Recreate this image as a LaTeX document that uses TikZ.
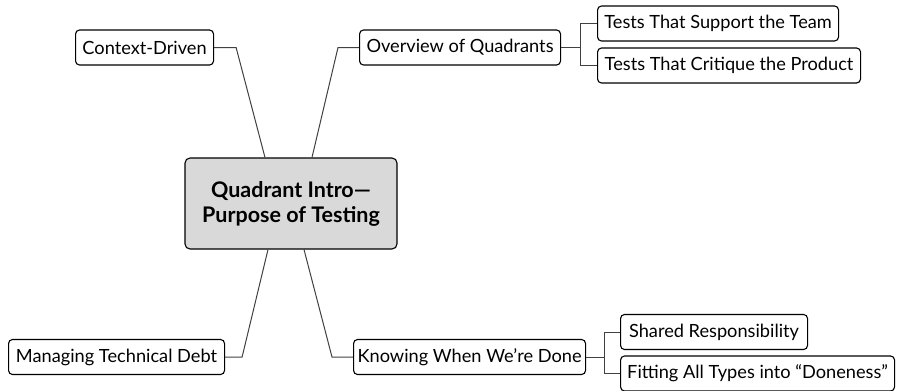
\documentclass[tikz,border=0pt]{standalone}
\usepackage{fontspec}
\setmainfont{Lato}
\usepackage{tikz}

\begin{document}
\begin{tikzpicture}[x=1pt,y=-1pt,
  topic/.style={draw=black,line width=1.1pt,rounded corners=4pt,fill=white,
    anchor=west,minimum height=35pt,inner xsep=4pt,
    font=\fontsize{18.2}{20}\selectfont},
  root/.style={draw=black,line width=1.1pt,rounded corners=5pt,fill=black!15,
    minimum width=212pt,minimum height=91pt,align=center,
    font=\fontsize{21.5}{25}\selectfont\bfseries},
  link/.style={draw=black!75,line width=1pt}]
\useasboundingbox (0,0) rectangle (900,391);
% central topic
\node [root] (root) at (291,203.5) {Quadrant Intro---\\Purpose of Testing};
% main branches
\node [topic,minimum width=138pt] (ctx) at (75,47.5) {Context-Driven};
\node [topic,minimum width=201pt] (ovr) at (359,47.5) {Overview of Quadrants};
\node [topic,minimum width=216pt] (mtd) at (8,357) {Managing Technical Debt};
\node [topic,minimum width=232pt] (know) at (353,357) {Knowing When We’re Done};
% sub branches
\node [topic,minimum width=241pt] (tst) at (597,23.5) {Tests That Support the Team};
\node [topic,minimum width=263pt] (crit) at (597,65.5) {Tests That Critique the Product};
\node [topic,minimum width=187pt] (shr) at (620,332) {Shared Responsibility};
\node [topic,minimum width=274pt] (fit) at (620,373.5) {Fitting All Types into “Doneness”};
% connectors
\draw [link] (ctx.east) -- ++(22,0) -- ([xshift=-26pt]root.north);
\draw [link] ([xshift=21pt]root.north) -- ([xshift=-21pt]ovr.west) -- (ovr.west);
\draw [link] (mtd.east) -- ++(17,0) -- ([xshift=-23pt]root.south);
\draw [link] ([xshift=13pt]root.south) -- ([xshift=-21pt]know.west) -- (know.west);
\draw [link] (ovr.east) -- ++(19,0) coordinate (ob) |- (tst.west);
\draw [link] (ob) |- (crit.west);
\draw [link] (know.east) -- ++(18,0) coordinate (kb) |- (shr.west);
\draw [link] (kb) |- (fit.west);
\end{tikzpicture}
\end{document}
